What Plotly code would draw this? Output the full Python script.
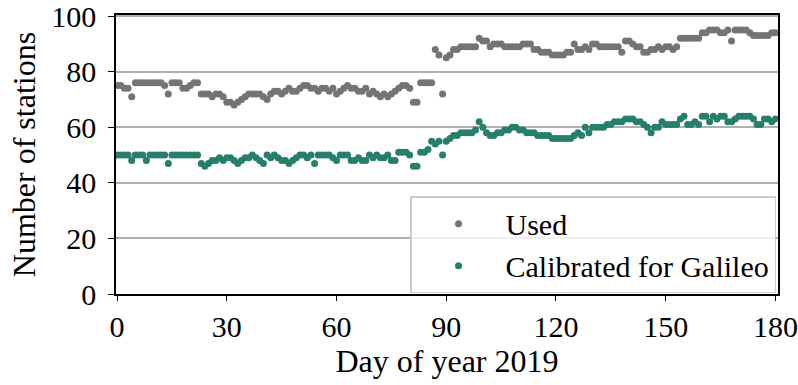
import plotly.graph_objects as go

days = list(range(0, 181))

used = [
    75, 75, 74, 74, 71, 76, 76, 76, 76, 76,   # 0-9
    76, 76, 76, 75, 72, 76, 76, 76, 74, 74,   # 10-19
    75, 76, 76, 72, 72, 72, 71, 72, 72, 71,   # 20-29
    69, 69, 68, 69, 70, 71, 72, 72, 72, 72,   # 30-39
    71, 70, 72, 73, 73, 72, 73, 74, 73, 73,   # 40-49
    74, 75, 75, 74, 74, 73, 74, 74, 73, 74,   # 50-59
    72, 73, 74, 75, 74, 74, 73, 73, 74, 72,   # 60-69
    73, 72, 71, 72, 71, 72, 73, 74, 75, 75,   # 70-79
    74, 69, 69, 76, 76, 76, 76, 88, 86, 72,   # 80-89
    85, 86, 88, 88, 89, 89, 89, 89, 89, 92,   # 90-99
    91, 91, 89, 90, 90, 90, 89, 89, 89, 89,   # 100-109
    89, 90, 90, 90, 88, 88, 87, 87, 87, 86,   # 110-119
    86, 86, 86, 87, 87, 90, 88, 88, 89, 88,   # 120-129
    90, 90, 89, 89, 89, 89, 89, 89, 87, 91,   # 130-139
    91, 90, 89, 89, 87, 87, 88, 88, 89, 88,   # 140-149
    89, 89, 88, 89, 92, 92, 92, 92, 92, 92,   # 150-159
    94, 94, 95, 95, 95, 94, 94, 95, 91, 95,   # 160-169
    95, 95, 95, 94, 93, 93, 93, 93, 93, 94,   # 170-179
    94,                                       # 180
]

calibrated = [
    50, 50, 50, 50, 48, 50, 50, 50, 48, 50,   # 0-9
    50, 50, 50, 50, 47, 50, 50, 50, 50, 50,   # 10-19
    50, 50, 50, 47, 46, 47, 48, 48, 49, 48,   # 20-29
    49, 49, 48, 47, 48, 49, 49, 50, 49, 48,   # 30-39
    47, 50, 49, 50, 49, 48, 48, 47, 48, 49,   # 40-49
    50, 50, 49, 50, 47, 50, 50, 50, 50, 49,   # 50-59
    48, 50, 50, 50, 48, 48, 49, 48, 48, 50,   # 60-69
    49, 50, 49, 49, 50, 48, 48, 51, 51, 51,   # 70-79
    50, 46, 46, 51, 51, 52, 55, 54, 55, 50,   # 80-89
    55, 56, 57, 57, 58, 58, 58, 58, 59, 62,   # 90-99
    60, 58, 57, 57, 58, 58, 59, 59, 60, 60,   # 100-109
    59, 59, 58, 58, 58, 57, 57, 57, 57, 56,   # 110-119
    56, 56, 56, 56, 56, 57, 58, 57, 60, 58,   # 120-129
    60, 60, 60, 60, 61, 61, 62, 62, 62, 63,   # 130-139
    63, 63, 62, 62, 61, 60, 58, 60, 60, 62,   # 140-149
    61, 61, 61, 61, 63, 64, 61, 61, 62, 61,   # 150-159
    64, 64, 62, 64, 63, 64, 64, 62, 62, 63,   # 160-169
    64, 64, 64, 64, 63, 61, 61, 63, 63, 62,   # 170-179
    63,                                       # 180
]

x_ticks = [0, 30, 60, 90, 120, 150, 180]
y_ticks = [0, 20, 40, 60, 80, 100]

FONT = "Liberation Serif"
GREY = "#747474"
GREEN = "#267f6b"
TICK_SIZE = 30
TITLE_SIZE = 32

fig = go.Figure()
fig.add_trace(go.Scatter(x=days, y=used, mode="markers", name="Used",
                         marker=dict(color=GREY, size=7)))
fig.add_trace(go.Scatter(x=days, y=calibrated, mode="markers",
                         name="Calibrated for Galileo",
                         marker=dict(color=GREEN, size=7)))

fig.update_layout(
    width=798, height=385,
    margin=dict(l=115.5, r=20, t=15, b=90.7, autoexpand=False),
    paper_bgcolor="white", plot_bgcolor="white",
    font=dict(family=FONT, size=TICK_SIZE, color="black"),
    showlegend=True,
    legend=dict(x=0.997, y=0.003, xanchor="right", yanchor="bottom",
                bgcolor="rgba(255,255,255,0.8)", bordercolor="#cccccc",
                borderwidth=1.5, font=dict(family=FONT, size=30),
                itemwidth=84, tracegroupgap=0),
)
fig.update_xaxes(
    range=[-0.3, 180.7], tickvals=x_ticks, ticktext=[str(v) for v in x_ticks],
    showline=True, linecolor="black", linewidth=1.6, mirror=True,
    ticks="outside", ticklen=5, tickwidth=1.4, tickcolor="black",
    showgrid=False, zeroline=False, automargin=False,
    ticklabeloverflow="allow",
    tickfont=dict(family=FONT, size=TICK_SIZE, color="black"),
    title=dict(text="Day of year 2019", standoff=0,
               font=dict(family=FONT, size=TITLE_SIZE, color="black")),
)
fig.update_yaxes(
    range=[0, 100.4], tickvals=y_ticks, ticktext=[str(v) for v in y_ticks],
    showline=True, linecolor="black", linewidth=1.6, mirror=True,
    ticks="outside", ticklen=6, tickwidth=1.4, tickcolor="black",
    showgrid=True, gridcolor="#b0b0b0", gridwidth=1.5, zeroline=False,
    ticklabelstandoff=6, automargin=False, ticklabeloverflow="allow",
    tickfont=dict(family=FONT, size=TICK_SIZE, color="black"),
    title=dict(text="Number of stations", standoff=6,
               font=dict(family=FONT, size=TITLE_SIZE, color="black")),
)

# remove the browser's default 8px body margin so the figure sits at (0, 0)
fig.write_html("out.html",
               config={"displayModeBar": False},
               post_script="document.body.style.margin='0';")
